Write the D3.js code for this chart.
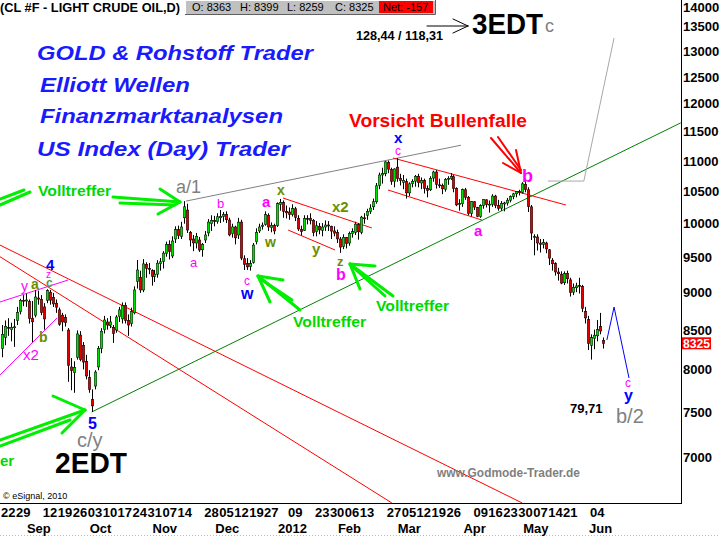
<!DOCTYPE html>
<html><head><meta charset="utf-8">
<script src="https://cdn.jsdelivr.net/npm/d3@7"></script>
<style>body{margin:0;background:#fff}svg{display:block}text{font-family:"Liberation Sans",Arial,sans-serif}</style>
</head><body><svg id="c" width="720" height="537"></svg>
<script>
// ---- data (price x 100), one entry per trading day from 22 Aug 2011 to 08 Jun 2012 ----
const openP = [8260,8400,8530,8500,8530,8620,8740,8890,8880,8870,8650,8690,8920,8900,8800,8890,9000,8930,8850,8760,8690,8660,8495,8030,7960,8150,8430,8300,8100,7900,7640,7800,8030,8260,8500,8600,8560,8530,8495,8670,8640,8820,8620,8580,8720,9150,9200,9030,9390,9330,9300,9220,9250,9400,9430,9550,9680,9510,9760,9900,9800,10080,10200,9860,9760,9700,9745,9600,9745,9850,9990,10040,10020,10080,10100,10130,10046,9840,9940,9820,10015,9470,9400,9360,9420,9720,9880,9950,9980,10120,9930,9960,9960,10290,10320,10180,10170,10130,10220,10070,9900,9890,10070,10070,10040,9870,9950,9890,9940,9970,9950,9880,9860,9760,9650,9780,9700,9840,9860,9980,9860,10080,10120,10180,10250,10330,10590,10760,10780,10970,10850,10660,10890,10700,10640,10650,10470,10620,10660,10740,10630,10670,10540,10520,10710,10810,10600,10590,10530,10690,10700,10730,10540,10290,10300,10520,10400,10150,10330,10240,10100,10270,10360,10280,10290,10420,10270,10230,10300,10310,10355,10410,10455,10490,10480,10610,10520,10250,9780,9790,9700,9680,9700,9600,9450,9400,9280,9250,9130,9260,9170,9000,9060,9090,9080,8740,8630,8300,8390,8420,8540,8363];
const highP = [8560,8620,8650,8590,8640,8800,8910,8960,8980,8900,8880,9030,9020,8960,8850,9040,9030,8990,8900,8790,8720,8700,8520,8140,8100,8490,8480,8340,8180,7990,7760,7990,8290,8520,8680,8650,8680,8560,8690,8800,8860,8860,8700,8790,9080,9452,9300,9465,9420,9410,9320,9310,9450,9480,9580,9720,9740,9800,9950,9960,10020,10340,10300,9880,9820,9850,9790,9700,9880,10060,10120,10110,10150,10200,10170,10180,10080,9990,9960,10080,10050,9520,9480,9450,9700,9920,9990,10010,10180,10150,10010,9990,10320,10374,10350,10270,10240,10290,10250,10120,9960,10120,10120,10150,10060,10030,10000,10000,10040,10030,9960,9950,9900,9790,9830,9790,9870,9920,10020,10000,10110,10150,10220,10290,10380,10630,10800,10880,10990,11000,10880,10870,11040,10780,10760,10700,10640,10690,10760,10780,10720,10700,10590,10740,10830,10840,10700,10620,10710,10740,10790,10760,10560,10370,10540,10550,10420,10340,10340,10250,10290,10370,10370,10350,10450,10440,10360,10340,10330,10390,10430,10470,10500,10520,10643,10678,10560,10280,9830,9830,9760,9760,9720,9610,9480,9420,9340,9290,9290,9300,9200,9120,9130,9200,9100,8800,8680,8440,8500,8625,8720,8399];
const lowP = [8150,8300,8420,8350,8280,8560,8700,8810,8800,8580,8340,8660,8830,8690,8500,8850,8830,8800,8720,8550,8480,8540,7850,7750,7720,8120,8100,8000,7880,7720,7497,7760,7990,8200,8450,8500,8520,8330,8460,8600,8580,8580,8420,8540,8700,9050,8990,9000,9200,9250,9090,9140,9200,9300,9330,9500,9460,9480,9700,9760,9760,9990,9850,9650,9580,9620,9570,9500,9700,9800,9880,9950,9990,10000,10020,10000,9800,9780,9680,9760,9450,9309,9310,9300,9400,9680,9850,9900,9960,9880,9860,9830,9940,10190,10080,10070,10050,10100,10030,9880,9810,9880,9980,9980,9800,9800,9830,9800,9880,9880,9760,9800,9700,9555,9610,9620,9660,9780,9820,9750,9830,9990,10050,10140,10200,10300,10530,10620,10740,10790,10600,10560,10650,10590,10530,10380,10420,10560,10570,10560,10530,10460,10400,10500,10650,10540,10550,10450,10490,10600,10680,10480,10260,10190,10250,10360,10120,10100,10200,10090,10080,10220,10240,10160,10250,10230,10190,10190,10180,10270,10320,10370,10400,10430,10460,10480,10170,9745,9520,9590,9560,9620,9550,9380,9300,9230,9160,9110,9100,9120,8940,8960,9000,8980,8730,8580,8240,8121,8250,8350,8440,8259];
const closeP = [8440,8544,8516,8530,8537,8727,8890,8881,8893,8645,8602,8934,8905,8724,8640,9021,8891,8840,8796,8570,8600,8592,8051,7985,8024,8445,8121,8090,7920,7760,7567,7968,8260,8480,8626,8560,8600,8450,8665,8760,8820,8620,8560,8740,9030,9309,9030,9396,9332,9319,9219,9251,9407,9426,9552,9680,9574,9730,9900,9810,9940,10250,9894,9745,9701,9800,9597,9680,9820,10015,10040,10020,10096,10099,10130,10050,9820,9941,9777,10014,9480,9390,9353,9400,9670,9860,9940,9968,10130,9940,9965,9880,10300,10320,10180,10156,10131,10224,10087,9910,9870,10071,10059,10039,9856,9958,9895,9940,9970,9956,9878,9848,9761,9640,9784,9691,9841,9870,9984,9867,10091,10074,10180,10231,10330,10584,10760,10783,10977,10856,10655,10860,10700,10670,10672,10470,10616,10658,10740,10634,10671,10543,10511,10706,10809,10609,10596,10535,10687,10703,10733,10541,10280,10302,10523,10401,10147,10331,10246,10102,10270,10364,10283,10293,10420,10270,10227,10305,10311,10355,10412,10455,10493,10487,10616,10522,10254,9849,9794,9700,9681,9708,9613,9480,9398,9281,9256,9125,9257,9185,8995,9066,9086,9076,8782,8653,8323,8398,8429,8502,8482,8325];
const priceTicks = [14000,13500,13000,12500,12000,11500,11000,10500,10000,9500,9000,8500,8000,7500,7000];
// [trading-day index, label]
const weekTicks = [[0,"22"],[5,"29"],[14,"12"],[19,"19"],[24,"26"],[29,"03"],[34,"10"],[39,"17"],[44,"24"],[49,"31"],[54,"07"],[59,"14"],[68,"28"],[73,"05"],[78,"12"],[83,"19"],[88,"27"],[96,"09"],[105,"23"],[110,"30"],[115,"06"],[120,"13"],[129,"27"],[134,"05"],[139,"12"],[144,"19"],[149,"26"],[158,"09"],[163,"16"],[168,"23"],[173,"30"],[178,"07"],[183,"14"],[188,"21"],[197,"04"]];
const monthTicks = [[8,"Sep"],[29,"Oct"],[50,"Nov"],[71,"Dec"],[92,"2012"],[112,"Feb"],[132,"Mar"],[154,"Apr"],[174,"May"],[196,"Jun"]];
const quote = {o:8363,h:8399,l:8259,c:8325,net:-157};
// drawn trend lines in data space: [trading-day index, price]
const trendLines = [
 {pts:[[30,7497],[227,11650]], color:"#008000"},
 {pts:[[61.5,10340],[153.5,11260]], color:"#808080"},
 {pts:[[-0.7,9670],[174,6526]], color:"#ff0000"},
 {pts:[[-0.7,9500],[130.4,6526]], color:"#ff0000"},
 {pts:[[94,10389],[123.7,9925]], color:"#ff0000"},
 {pts:[[95.7,9894],[111.4,9597]], color:"#ff0000"},
 {pts:[[130.8,11042],[188.6,10279]], color:"#ff0000"},
 {pts:[[129.1,10517],[160.5,10046]], color:"#ff0000"},
 {pts:[[-0.7,8866],[22.1,9168]], color:"#ff00ff"},
 {pts:[[-0.7,7932],[18.4,8652]], color:"#ff00ff"},
 {pts:[[182.6,10661],[194.6,10661],[204.7,13259]], color:"#a8a8a8"},
 {pts:[[202.3,8367],[204.7,8798],[209.7,7896]], color:"#0000ff"}
];

// ---- layout ----
const plotR = 681, plotB = 503;
const x = d3.scaleLinear().domain([0, 201]).range([2, 2 + 201 * 2.99]);
const y = d3.scaleLog().domain([6526, 14050]).range([plotB, 0]);
const svg = d3.select("#c");
svg.append("defs").append("clipPath").attr("id","plot").append("rect").attr("x",0).attr("y",0).attr("width",plotR).attr("height",plotB);
const plot = svg.append("g").attr("clip-path","url(#plot)");

// trend lines
const line = d3.line().x(d => x(d[0])).y(d => y(d[1]));
plot.selectAll("path.tl").data(trendLines).join("path").attr("class","tl")
  .attr("d", d => line(d.pts)).attr("fill","none").attr("stroke", d => d.color).attr("stroke-width",1);

// candles
const idx = d3.range(openP.length);
const cg = plot.append("g");
idx.forEach(i => {
  const cx = Math.round(x(i));
  const up = closeP[i] >= openP[i];
  cg.append("line").attr("x1",cx+0.5).attr("x2",cx+0.5).attr("y1",y(highP[i])).attr("y2",y(lowP[i])).attr("stroke","#000").attr("stroke-width",1);
  const top = y(Math.max(openP[i],closeP[i])), bot = y(Math.min(openP[i],closeP[i]));
  cg.append("rect").attr("x",cx-0.75).attr("width",2.5).attr("y",top).attr("height",Math.max(1,bot-top))
    .attr("fill", up ? "#00e000" : "#e00000").attr("stroke","#000").attr("stroke-width",0.5);
});

// axes frame
svg.append("line").attr("x1",plotR+0.5).attr("x2",plotR+0.5).attr("y1",0).attr("y2",plotB+1).attr("stroke","#000");
svg.append("line").attr("x1",0).attr("x2",plotR+1).attr("y1",plotB+0.5).attr("y2",plotB+0.5).attr("stroke","#000");
svg.append("line").attr("x1",0).attr("x2",720).attr("y1",535.5).attr("y2",535.5).attr("stroke","#bbb").attr("stroke-dasharray","1,2");

svg.selectAll("text.yt").data(priceTicks).join("text").attr("class","yt")
  .attr("x",683).attr("y", d => Math.max(y(d),7) + 5).attr("font-size",13).attr("font-weight","bold").text(d => d);
svg.selectAll("text.wk").data(weekTicks).join("text").attr("class","wk")
  .attr("x", d => x(d[0]) - 1).attr("y",517).attr("font-size",13).attr("font-weight","bold").text(d => d[1]);
svg.selectAll("text.mo").data(monthTicks).join("text").attr("class","mo")
  .attr("x", d => x(d[0]) + 1).attr("y",533).attr("font-size",13).attr("font-weight","bold").text(d => d[1]);

// last price marker
const lp = y(quote.c);
svg.append("rect").attr("x",682).attr("y",lp-6).attr("width",29).attr("height",12).attr("fill","#ff0000");
svg.append("text").attr("x",683).attr("y",lp+5).attr("font-size",13).attr("font-weight","bold").attr("fill","#fff")
  .attr("textLength",27).attr("lengthAdjust","spacingAndGlyphs").text(quote.c);

// header
svg.append("text").attr("x",0).attr("y",12).attr("font-size",13).attr("font-weight","bold").attr("textLength",180).attr("lengthAdjust","spacingAndGlyphs").text("(CL #F - LIGHT CRUDE OIL,D)");
svg.append("rect").attr("x",185).attr("y",0).attr("width",250).attr("height",14).attr("fill","#c0c0c0");
svg.append("path").attr("d","M185.5,14V0.5H435").attr("stroke","#fff").attr("fill","none");
svg.append("path").attr("d","M185,14.5H435.5V0").attr("stroke","#606060").attr("fill","none");
svg.append("rect").attr("x",379).attr("y",1).attr("width",54).attr("height",12).attr("fill","#ff0000");
[["O: "+quote.o,192],["H: "+quote.h,240],["L: "+quote.l,287],["C: "+quote.c,335],["Net: "+quote.net,383]].forEach(d=>{
  svg.append("text").attr("x",d[1]).attr("y",11).attr("font-size",11).text(d[0]);
});

// text annotations
const blue = "#1a1aff", mag = "#ff00ff", olive = "#6b8e00", gray = "#808080", green = "#00d800";
const texts = [
 {t:"GOLD & Rohstoff Trader", x:37, y:60, s:20, c:blue, w:"bold", i:1, L:276},
 {t:"Elliott Wellen", x:40, y:92, s:20, c:blue, w:"bold", i:1, L:150},
 {t:"Finanzmarktanalysen", x:40, y:123, s:20, c:blue, w:"bold", i:1, L:243},
 {t:"US Index (Day) Trader", x:37, y:156, s:20, c:blue, w:"bold", i:1, L:253},
 {t:"Vorsicht Bullenfalle", x:349, y:127, s:18, c:"#ff0000", w:"bold", L:178},
 {t:"3EDT", x:472, y:34, s:29, c:"#000", w:"bold", L:71},
 {t:"c", x:545, y:32, s:18, c:gray},
 {t:"128,44 / 118,31", x:356, y:40, s:13, c:"#000", w:"bold", L:87},
 {t:"2EDT", x:55, y:473, s:29, c:"#000", w:"bold", L:72},
 {t:"c/y", x:77, y:447, s:20, c:gray},
 {t:"5", x:88, y:429, s:16, c:"#0000ff", w:"bold"},
 {t:"a/1", x:176, y:193, s:18, c:gray},
 {t:"a", x:190, y:267, s:13, c:mag},
 {t:"b", x:217, y:208, s:13, c:mag},
 {t:"c", x:244, y:285, s:12, c:mag},
 {t:"w", x:241, y:299, s:16, c:"#0000ff", w:"bold"},
 {t:"a", x:262, y:207, s:15, c:mag, w:"bold"},
 {t:"w", x:265, y:247, s:14, c:olive, w:"bold"},
 {t:"x", x:277, y:195, s:14, c:olive, w:"bold"},
 {t:"x2", x:332, y:212, s:15, c:olive, w:"bold"},
 {t:"y", x:312, y:254, s:15, c:olive, w:"bold"},
 {t:"z", x:337, y:266, s:13, c:olive, w:"bold"},
 {t:"b", x:336, y:280, s:16, c:mag, w:"bold"},
 {t:"x", x:394, y:143, s:15, c:"#0000ff", w:"bold"},
 {t:"c", x:395, y:155, s:12, c:mag},
 {t:"b", x:522, y:182, s:18, c:mag, w:"bold"},
 {t:"a", x:474, y:236, s:15, c:mag, w:"bold"},
 {t:"4", x:46, y:270, s:15, c:"#0000ff", w:"bold"},
 {t:"z", x:46, y:278, s:10, c:mag},
 {t:"c", x:46, y:287, s:12, c:"#559955", w:"bold"},
 {t:"y", x:21, y:291, s:14, c:mag},
 {t:"a", x:31, y:289, s:14, c:olive, w:"bold"},
 {t:"b", x:39, y:342, s:14, c:olive, w:"bold"},
 {t:"x2", x:23, y:360, s:15, c:mag},
 {t:"79,71", x:570, y:413, s:13, c:"#000", w:"bold"},
 {t:"c", x:625, y:387, s:12, c:mag},
 {t:"y", x:624, y:401, s:16, c:"#0000ff", w:"bold"},
 {t:"b/2", x:616, y:423, s:20, c:gray},
 {t:"www.Godmode-Trader.de", x:437, y:477, s:13, c:"#7f7f7f", w:"bold", L:143},
 {t:"© eSignal, 2010", x:3, y:499, s:9, c:"#000"},
 {t:"Volltreffer", x:38, y:196, s:15, c:green, w:"bold", L:73},
 {t:"Volltreffer", x:293, y:327, s:15, c:green, w:"bold", L:73},
 {t:"Volltreffer", x:376, y:311, s:15, c:green, w:"bold", L:73},
 {t:"er", x:0, y:466, s:15, c:green, w:"bold"}
];
texts.forEach(d => {
  const t = svg.append("text").attr("x",d.x).attr("y",d.y).attr("font-size",d.s).attr("fill",d.c)
    .attr("font-weight",d.w||"normal").attr("font-style",d.i?"italic":"normal").attr("text-anchor",d.a||"start").text(d.t);
  if (d.L) t.attr("textLength",d.L).attr("lengthAdjust","spacingAndGlyphs");
});

// hand drawn arrows (pixel layout)
const arrows = [
 {c:"#00ee00", w:3, segs:[[[0,205],[30,192]],[[0,199],[24,190]]]},
 {c:"#00ee00", w:3, segs:[[[113,197],[180,202]],[[160,189],[180,202]],[[158,214],[180,202]],[[120,203],[175,205]]]},
 {c:"#00ee00", w:3, segs:[[[258,276],[300,310]],[[258,276],[283,280]],[[258,276],[270,302]],[[262,280],[292,300]]]},
 {c:"#00ee00", w:3, segs:[[[350,264],[393,296]],[[350,264],[375,266]],[[350,264],[360,289]],[[354,268],[385,296]]]},
 {c:"#00ee00", w:3, segs:[[[0,440],[85,410]],[[53,396],[85,410]],[[62,433],[85,410]],[[0,446],[70,420]]]},
 {c:"#ff0000", w:2, segs:[[[491,138],[521,173]],[[498,137],[521,170]],[[503,163],[521,173]],[[516,150],[521,173]]]},
 {c:"#000", w:1, segs:[[[427,26],[468,26]],[[453,19],[468,26]],[[453,33],[468,26]]]}
];
arrows.forEach(a => a.segs.forEach(s => {
  svg.append("line").attr("x1",s[0][0]).attr("y1",s[0][1]).attr("x2",s[1][0]).attr("y2",s[1][1])
    .attr("stroke",a.c).attr("stroke-width",a.w).attr("stroke-linecap","round");
}));
</script></body></html>
